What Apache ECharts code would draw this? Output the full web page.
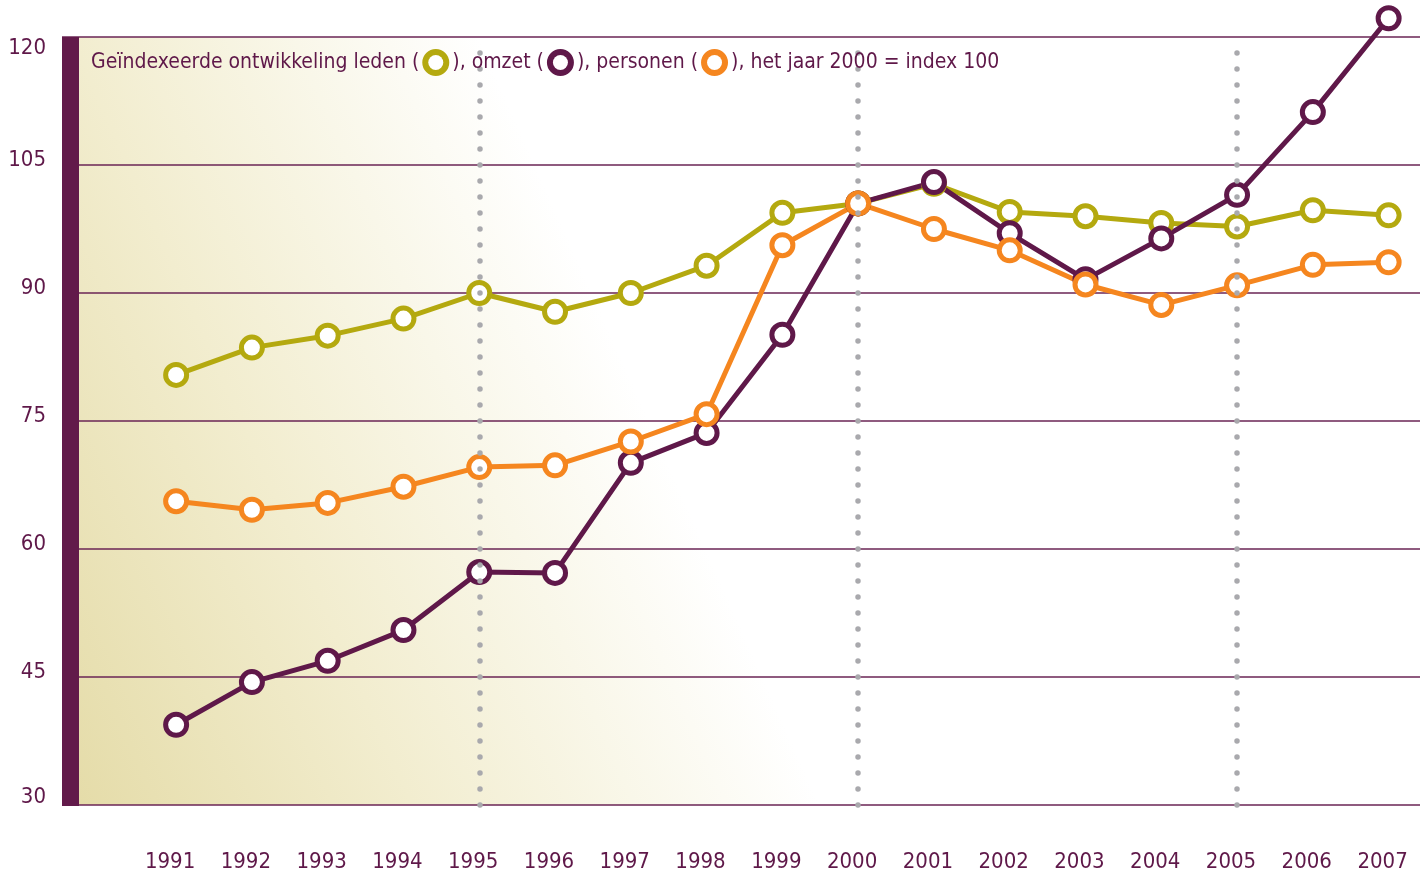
<!DOCTYPE html>
<html>
<head>
<meta charset="utf-8">
<script src="https://cdn.jsdelivr.net/npm/echarts@6/dist/echarts.min.js"></script>
<style>
html,body{margin:0;padding:0;background:#fff;}
#chart{width:1426px;height:876px;}
</style>
</head>
<body>
<div id="chart"></div>
<script>
// ---- data ----
const years = [1991,1992,1993,1994,1995,1996,1997,1998,1999,2000,2001,2002,2003,2004,2005,2006,2007];
const leden    = [80.4,83.6,85.0,87.0,90.0,87.8,90.0,93.2,99.4,100.5,102.8,99.5,99.0,98.2,97.8,99.7,99.1];
const omzet    = [39.4,44.4,46.9,50.5,57.3,57.2,70.1,73.6,85.1,100.5,103.0,97.0,91.6,96.4,101.5,111.2,122.2];
const personen = [65.6,64.6,65.4,67.3,69.6,69.8,72.6,75.8,95.6,100.5,97.5,95.0,91.0,88.6,90.9,93.3,93.6];
const markerYears = [1995,2000,2005];
const yMin = 30, yMax = 120, yStep = 15;
const titleText = 'Geïndexeerde ontwikkeling leden ({s| }{g| }{s| }), omzet ({s| }{p| }{s| }), personen ({s| }{o| }{s| }), het jaar 2000 = index 100';

// ---- style ----
const FONT = "'Liberation Sans Narrow','DejaVu Sans Condensed',sans-serif";
const TXT = '#5f1849';
const C_GREEN = '#b4a90f', C_PURPLE = '#5f1849', C_ORANGE = '#f5861f';

const chart = echarts.init(document.getElementById('chart'), null, {renderer:'canvas'});

function lineSeries(name, vals, color, extra) {
  return Object.assign({
    name: name,
    type: 'line',
    xAxisIndex: 0,
    data: years.map((y,i)=>[y, vals[i]]),
    clip: false,
    symbol: 'circle',
    symbolSize: 21,
    lineStyle: {color: color, width: 5},
    itemStyle: {color: '#ffffff', borderColor: color, borderWidth: 5},
    emphasis: {disabled: true},
    silent: true
  }, extra || {});
}

const ring = c => ({width:15, height:15, borderRadius:12, borderWidth:6, borderColor:c, backgroundColor:'#ffffff', fontSize: 4});

const option = {
  animation: false,
  backgroundColor: '#ffffff',
  title: {
    text: titleText,
    left: 91, top: 52, padding: 0,
    textStyle: {
      fontFamily: FONT, fontSize: 21, fontWeight: 'normal', color: TXT,
      rich: {g: ring(C_GREEN), p: ring(C_PURPLE), o: ring(C_ORANGE), s: {width: 9, fontSize: 4}}
    }
  },
  grid: {
    left: 62, right: 6, top: 37, bottom: 71,
    show: true, borderWidth: 0,
    backgroundColor: {
      type: 'linear', global: true,
      x: 79, y: 805, x2: 698, y2: 530,
      colorStops: [
        {offset: 0, color: '#e5dca9'},
        {offset: 0.45, color: '#f2edcf'},
        {offset: 0.75, color: '#f9f7e9'},
        {offset: 1, color: '#ffffff'}
      ]
    }
  },
  graphic: [{
    type: 'rect', z: 5,
    shape: {x: 62, y: 37, width: 17, height: 769},
    style: {fill: '#621a4a'}
  }],
  xAxis: [{
    type: 'value', min: 1989.494, max: 2007.414,
    axisLine: {show: false}, axisTick: {show: false}, axisLabel: {show: false}, splitLine: {show: false}
  }, {
    type: 'value', min: 1989.574, max: 2007.494, position: 'bottom',
    axisLine: {show: false}, axisTick: {show: false}, splitLine: {show: false},
    axisLabel: {
      customValues: years, margin: 46,
      formatter: v => String(v),
      fontFamily: FONT, fontSize: 22, color: TXT
    }
  }],
  yAxis: {
    type: 'value', min: yMin, max: yMax, interval: yStep,
    axisLine: {show: false}, axisTick: {show: false},
    splitLine: {lineStyle: {color: '#6a2455', width: 1.6}},
    axisLabel: {
      margin: 16, fontFamily: FONT, fontSize: 22, color: TXT,
      formatter: v => v === yMax ? '{t|' + v + '}' : (v === yMin ? '{b|' + v + '}' : '{m|' + v + '}'),
      rich: {
        t: {fontFamily: FONT, fontSize: 22, color: TXT, padding: [22,0,0,0]},
        b: {fontFamily: FONT, fontSize: 22, color: TXT, padding: [0,0,16,0]},
        m: {fontFamily: FONT, fontSize: 22, color: TXT, padding: [0,0,10,0]}
      }
    }
  },
  series: [
    lineSeries('leden', leden, C_GREEN),
    lineSeries('omzet', omzet, C_PURPLE),
    lineSeries('personen', personen, C_ORANGE, {
      markLine: {
        silent: true, symbol: ['none','none'], label: {show: false},
        lineStyle: {color: '#a9a9ad', width: 5.5, type: [0, 16], cap: 'round'},
        data: markerYears.map(y => ({xAxis: y}))
      }
    })
  ]
};
chart.setOption(option);
</script>
</body>
</html>
